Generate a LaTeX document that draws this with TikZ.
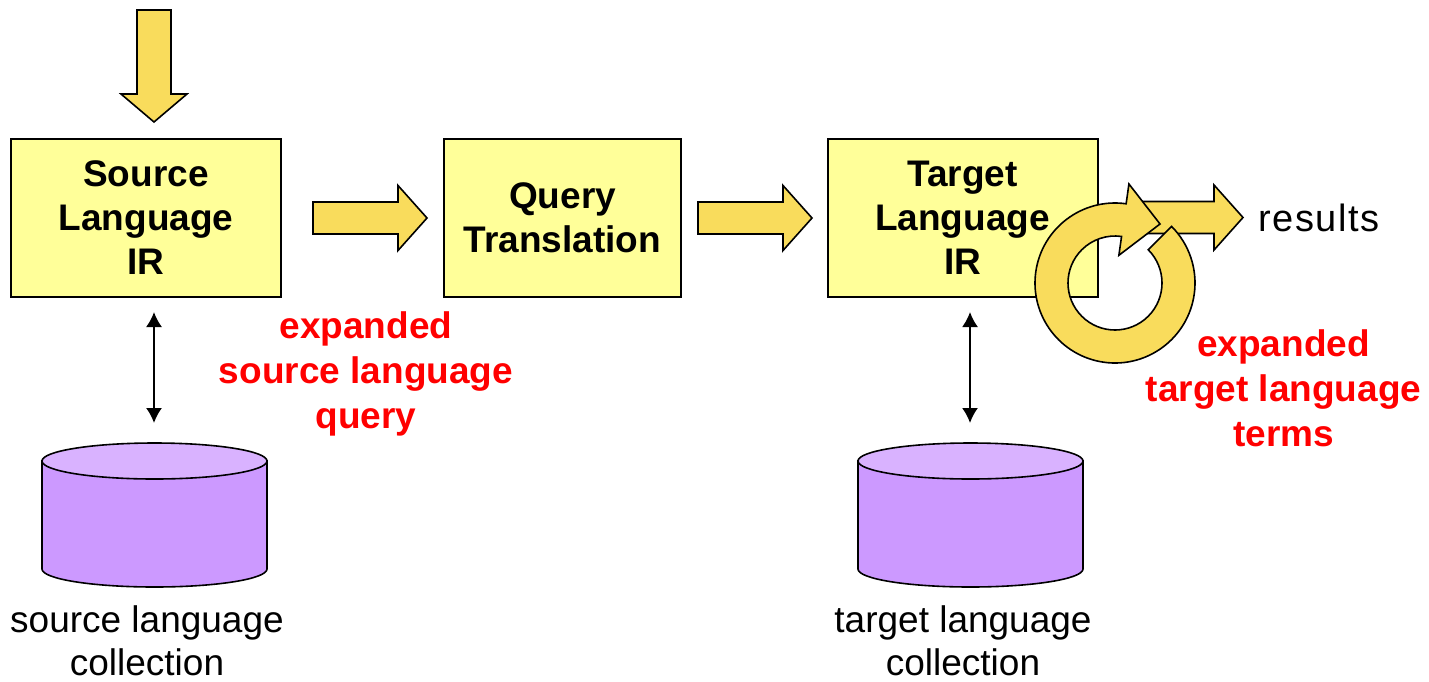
\documentclass[tikz,border=0pt]{standalone}
\usepackage{fontspec}
\setmainfont{Liberation Sans}
\usetikzlibrary{arrows.meta}
\definecolor{boxfill}{HTML}{FFFF99}
\definecolor{gold}{HTML}{F9DC5C}
\definecolor{dbside}{HTML}{CC99FF}
\definecolor{dbtop}{HTML}{D9B2FF}
\definecolor{labelred}{HTML}{FF0000}
\tikzset{
  stage/.style={draw=black, line width=2, fill=boxfill, minimum width=270, minimum height=158,
    align=center, font=\fontsize{37}{44}\selectfont\bfseries, inner sep=0},
  fatarrow/.style={draw=black, line width=1.6, fill=gold, line join=miter},
  dbbody/.style={draw=black, line width=1.6, fill=dbside},
  dbcap/.style={draw=black, line width=1.6, fill=dbtop},
  access/.style={line width=1.8, {Latex[length=15,width=16]}-{Latex[length=15,width=16]}},
  note/.style={text=labelred, align=center, font=\fontsize{37}{45}\selectfont\bfseries, inner sep=0},
  caption/.style={align=center, font=\fontsize{37}{43}\selectfont, inner sep=0},
  pics/flow/.style={code={
    \draw[fatarrow] (0,16) -- (85,16) -- (85,32.5) -- (114,0) -- (85,-32.5) -- (85,-16) -- (0,-16) -- cycle;}},
}
\begin{document}
\begin{tikzpicture}[x=1pt, y=1pt]
\useasboundingbox (0,0) rectangle (1429,-681);

% processing stages
\node[stage] (src) at (146,-218) {Source\\Language\\IR};
\node[stage, minimum width=237] (qt) at (562.5,-218) {Query\\Translation};
\node[stage] (tgt) at (962.5,-218) {Target\\Language\\IR};

% incoming query
\draw[fatarrow] (137,-10) -- (171,-10) -- (171,-94) -- (187,-94) -- (154,-122)
  -- (121,-94) -- (137,-94) -- cycle;

% flow between stages
\pic at (313,-218) {flow};
\pic at (698,-218) {flow};
\pic at (1129,-217.5) {flow};
\node[anchor=west, font=\fontsize{38}{44}\selectfont\addfontfeature{LetterSpace=4}, inner sep=0] (res) at (1258,-218) {results};

% feedback loop on the target side
\begin{scope}[shift={(1115,-283)}]
  \draw[fatarrow] (82:80) arc[start angle=82, end angle=405, radius=80]
    -- (405:47) arc[start angle=405, end angle=82, radius=47]
    -- (82:28) -- (45,59) -- (82:100) -- cycle;
\end{scope}

% collections
\draw[dbbody] (42,-461) -- (42,-569) arc[start angle=180, end angle=360, x radius=112.5, y radius=18] -- (267,-461) -- cycle;
\draw[dbcap] (154.5,-461) ellipse[x radius=112.5, y radius=18];
\coordinate (srcdb) at (154.5,-443);

\draw[dbbody] (858,-461) -- (858,-569) arc[start angle=180, end angle=360, x radius=112.5, y radius=18] -- (1083,-461) -- cycle;
\draw[dbcap] (970.5,-461) ellipse[x radius=112.5, y radius=18];
\coordinate (tgtdb) at (970.5,-443);

% access between stages and collections
\coordinate (srcup) at (154,-312);
\coordinate (srclo) at (154,-423);
\draw[access] (srcup) -- (srclo);
\coordinate (tgtup) at (970,-312);
\coordinate (tgtlo) at (970,-423);
\draw[access] (tgtup) -- (tgtlo);

% labels
\node[note] (qlabel) at (366,-374) {expanded\\source language\\query};
\node[note] (tlabel) at (1283.5,-388) {expanded\\target language\\terms};
\node[caption] (srccap) at (147,-641) {source language\\collection};
\node[caption] (tgtcap) at (963,-641) {target language\\collection};
\end{tikzpicture}
\end{document}
